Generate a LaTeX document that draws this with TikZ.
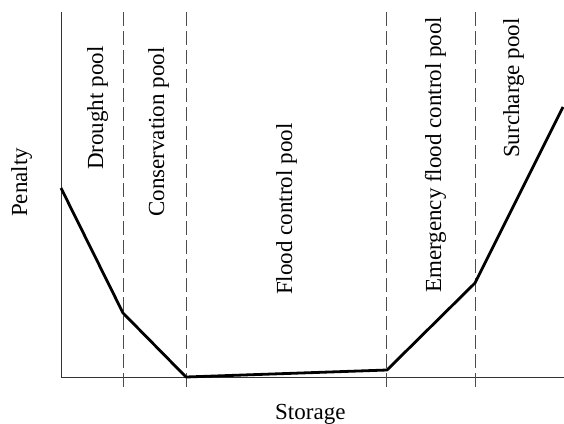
\documentclass[tikz,border=0pt]{standalone}
\usepackage{fontspec}
\setmainfont{Liberation Serif}
\usetikzlibrary{positioning}

\begin{document}
\begin{tikzpicture}[x=1pt,y=-1pt,
    lbl/.style={inner sep=0pt,anchor=base west,font=\fontsize{23}{26}\selectfont},
    pool/.style={lbl,rotate=90},
    zone/.style={dash pattern=on 14pt off 5pt,line width=0.9pt,black!70},
    penalty/.style={line width=2.8pt,line join=round}]
  \useasboundingbox (0,0) rectangle (564,423);
  % axes
  \coordinate (ytop) at (61,12);
  \coordinate (origin) at (61,377);
  \coordinate (xend) at (564,377);
  \draw[line width=0.9pt,black!80] (ytop) -- (origin) -- (xend);
  % pool limits
  \foreach \x/\name in {123/drlim,186/colim,386/fclim,475/emlim}{
    \coordinate (\name top) at (\x,12);
    \coordinate (\name bot) at (\x,389);
    \draw[zone] (\name top) -- (\name bot);
  }
  % penalty curve
  \coordinate (p0) at (61,188);
  \coordinate (p1) at (123,313);
  \coordinate (p2) at (186,377);
  \coordinate (p3) at (387,370);
  \coordinate (p4) at (475,283);
  \coordinate (p5) at (563,107);
  \draw[penalty] (p0) -- (p1) -- (p2) -- (p3) -- (p4) -- (p5);
  % labels
  \node[pool] (penalty) at (27,217) {Penalty};
  \node[pool] (drought) at (103,170) {Drought pool};
  \node[pool] (conservation) at (164,217) {Conservation pool};
  \node[pool] (floodctl) at (292,295) {Flood control pool};
  \node[pool] (emergency) at (441,293) {Emergency flood control pool};
  \node[pool] (surcharge) at (519,158) {Surcharge pool};
  \node[lbl] (storage) at (275,419) {Storage};
\end{tikzpicture}
\end{document}
